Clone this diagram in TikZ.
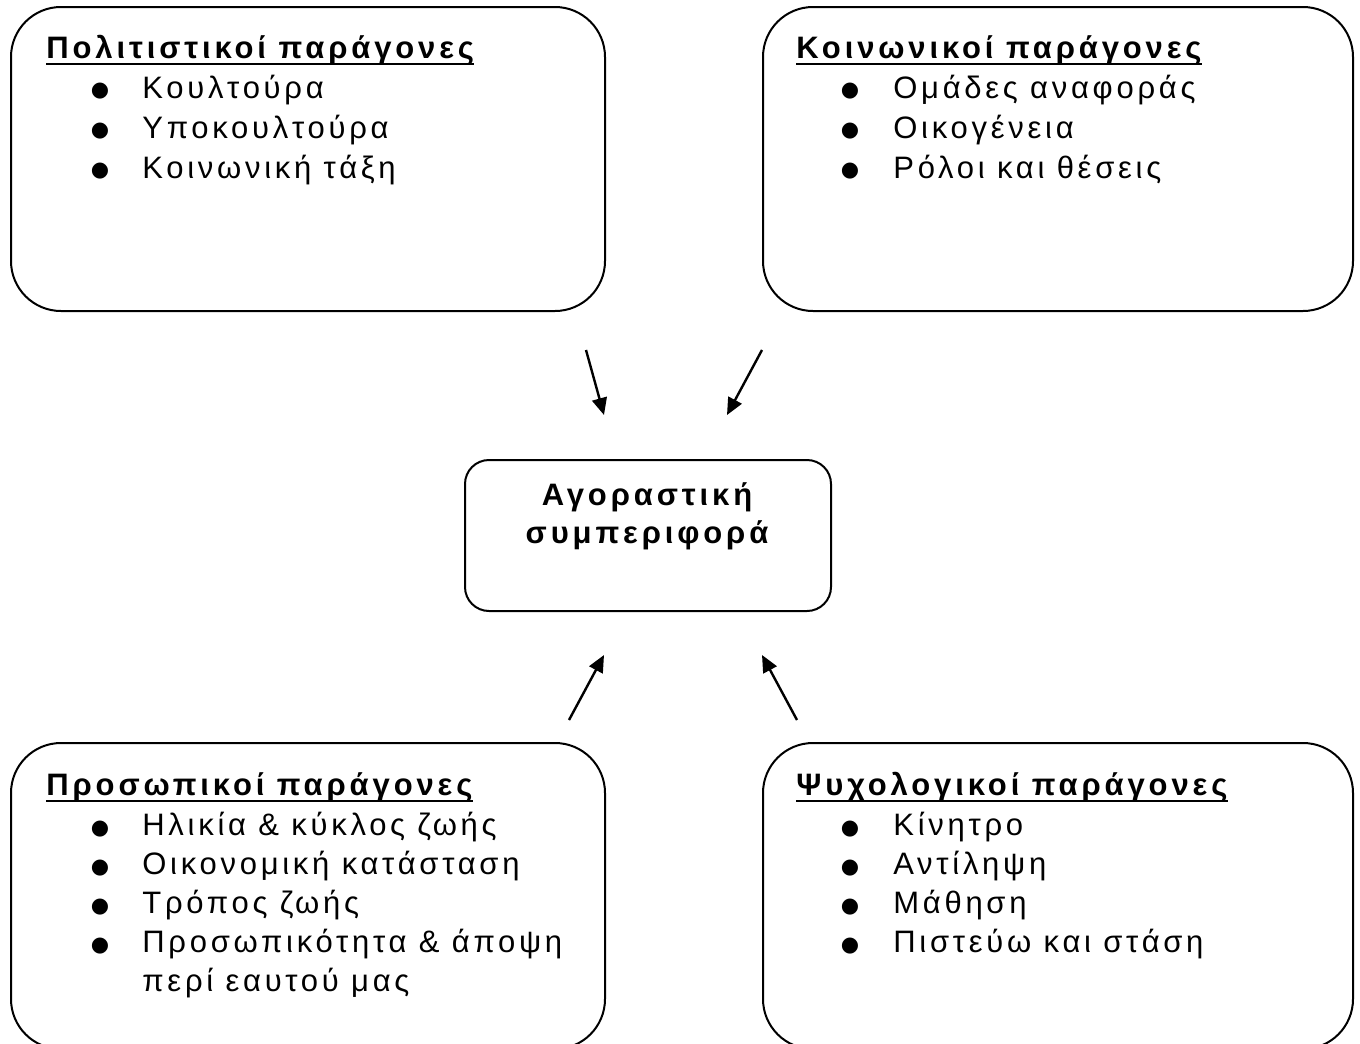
\documentclass[tikz,border=0pt]{standalone}
\usepackage{fontspec}
\setmainfont{Liberation Sans}
\newfontfamily\itemfont{Liberation Sans}[LetterSpace=12]
\newfontfamily\headfont{Liberation Sans}[LetterSpace=12.5]
\newfontfamily\bulfont{DejaVu Sans}
\usetikzlibrary{arrows.meta}
\tikzset{
  box/.style={draw, line width=1pt, rounded corners=25pt, inner sep=0pt, anchor=north west},
  cbox/.style={draw, line width=1pt, rounded corners=12pt, inner sep=0pt, anchor=north west, minimum width=183pt, minimum height=75.5pt},
  head/.style={anchor=base west, inner sep=0pt, font=\fontsize{15.5}{18}\headfont\bfseries},
  item/.style={anchor=base west, inner sep=0pt, font=\fontsize{15.5}{18}\itemfont},
  bul/.style={inner sep=0pt, font=\fontsize{10.5}{11}\bulfont},
  uline/.style={line width=1.25pt},
  arr/.style={line width=1.2pt, -{Triangle[length=8.5pt,width=7.5pt]}},
}
\begin{document}
\begin{tikzpicture}[x=0.5pt,y=-0.5pt]
\useasboundingbox (0,0) rectangle (1360,1044);
\begin{scope}
\clip (0,0) rectangle (1360,1044);
% boxes
\node[box, minimum width=297pt, minimum height=152pt] (tl) at (10,6) {};
\node[box, minimum width=295pt, minimum height=152pt] (tr) at (762,6) {};
\node[box, minimum width=297pt, minimum height=153pt] (bl) at (10,742) {};
\node[box, minimum width=295pt, minimum height=153pt] (br) at (762,742) {};
\node[cbox] (cb) at (464,459) {};
\end{scope}
% top left
\node[head] (h1) at (46,58) {Πολιτιστικοί παράγονες};
\draw[uline] ([yshift=-3pt]h1.base west) -- ([yshift=-3pt]h1.base east);
\node[bul] (b11) at (100,91) {●};
\node[item] (i11) at (142,98) {Κουλτούρα};
\node[bul] (b12) at (100,131) {●};
\node[item] (i12) at (142,138) {Υποκουλτούρα};
\node[bul] (b13) at (100,171) {●};
\node[item] (i13) at (142,178) {Κοινωνική τάξη};
% top right
\node[head] (h2) at (796,58) {Κοινωνικοί παράγονες};
\draw[uline] ([yshift=-3pt]h2.base west) -- ([yshift=-3pt]h2.base east);
\node[bul] (b21) at (850,91) {●};
\node[item] (i21) at (893,98) {Ομάδες αναφοράς};
\node[bul] (b22) at (850,131) {●};
\node[item] (i22) at (893,138) {Οικογένεια};
\node[bul] (b23) at (850,171) {●};
\node[item] (i23) at (893,178) {Ρόλοι και θέσεις};
% center
\node[head, anchor=base] (c1) at (647,505) {Αγοραστική};
\node[head, anchor=base] (c2) at (647,543) {συμπεριφορά};
% bottom left
\node[head] (h3) at (46,795) {Προσωπικοί παράγονες};
\draw[uline] ([yshift=-3pt]h3.base west) -- ([yshift=-3pt]h3.base east);
\node[bul] (b31) at (100,829) {●};
\node[item] (i31) at (142,835) {Ηλικία \& κύκλος ζωής};
\node[bul] (b32) at (100,868) {●};
\node[item] (i32) at (142,874) {Οικονομική κατάσταση};
\node[bul] (b33) at (100,907) {●};
\node[item] (i33) at (142,913) {Τρόπος ζωής};
\node[bul] (b34) at (100,946) {●};
\node[item] (i34) at (142,952) {Προσωπικότητα \& άποψη};
\node[item] (i35) at (142,991) {περί εαυτού μας};
% bottom right
\node[head] (h4) at (796,795) {Ψυχολογικοί παράγονες};
\draw[uline] ([yshift=-3pt]h4.base west) -- ([yshift=-3pt]h4.base east);
\node[bul] (b41) at (850,829) {●};
\node[item] (i41) at (893,835) {Κίνητρο};
\node[bul] (b42) at (850,868) {●};
\node[item] (i42) at (893,874) {Αντίληψη};
\node[bul] (b43) at (850,907) {●};
\node[item] (i43) at (893,913) {Μάθηση};
\node[bul] (b44) at (850,946) {●};
\node[item] (i44) at (893,952) {Πιστεύω και στάση};
% arrows
\coordinate (a1s) at (586,350);
\coordinate (a1e) at (604,415);
\coordinate (a2s) at (762,350);
\coordinate (a2e) at (727,415);
\coordinate (a3s) at (569,720);
\coordinate (a3e) at (604,655);
\coordinate (a4s) at (797,720);
\coordinate (a4e) at (762,655);
\draw[arr] (a1s) -- (a1e);
\draw[arr] (a2s) -- (a2e);
\draw[arr] (a3s) -- (a3e);
\draw[arr] (a4s) -- (a4e);
\end{tikzpicture}
\end{document}
